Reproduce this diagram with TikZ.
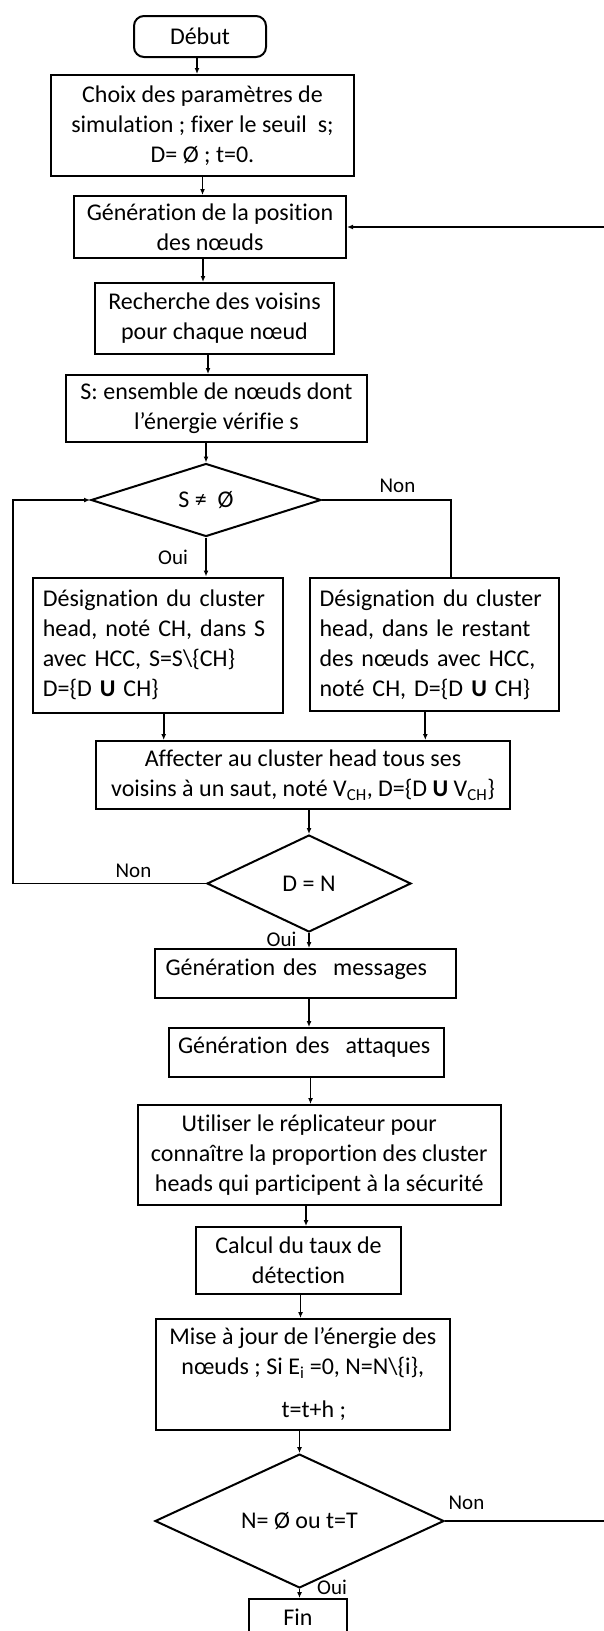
\documentclass[tikz,border=0pt]{standalone}
\usepackage{fontspec}
\setmainfont{Carlito}[Ligatures=NoCommon]
\usetikzlibrary{shapes.geometric,arrows.meta,calc}
\begin{document}
\begin{tikzpicture}[x=1pt,y=-1pt,
  every node/.style={font=\fontsize{24}{30}\selectfont},
  box/.style={draw,line width=2pt,rectangle,inner sep=0pt,align=center},
  lbox/.style={draw,line width=2pt,rectangle,inner xsep=9.5pt,inner ysep=0pt,align=left},
  dec/.style={draw,line width=2pt,diamond,inner sep=0pt},
  con/.style={line width=1.8pt},
  arr/.style={con,-{Latex[length=6pt,width=5pt]}},
  lab/.style={font=\fontsize{21}{25}\selectfont,inner sep=0pt}
]
\useasboundingbox (0,0) rectangle (604,1631);

% boxes
\node[box,rounded corners=10pt,minimum width=132pt,minimum height=41pt] (debut) at (200,36.5) {Début};
\node[box,minimum width=303pt,minimum height=101pt] (choix) at (202.5,125.5) {Choix des paramètres de\\simulation ; fixer le seuil~ s;\\D= Ø ; t=0.};
\node[box,minimum width=272pt,minimum height=62pt] (gen) at (210,227) {Génération de la position\\des nœuds};
\node[box,minimum width=239pt,minimum height=71pt] (rech) at (214.5,318.5) {Recherche des voisins\\pour chaque nœud};
\node[box,minimum width=301pt,minimum height=67pt] (S) at (216.5,408.5) {S: ensemble de nœuds dont\\l’énergie vérifie s};
\node[dec,minimum width=230pt,minimum height=73pt] (d1) at (206,500) {S ≠~ Ø};
\node[lbox,text width=231pt,minimum width=250pt,minimum height=135pt] (b6) at (158.3,645) {Désignation du cluster\\head, noté CH, dans S\\avec HCC, S=S\textbackslash\{CH\}\\D=\{D \textbf{U} CH\}};
\node[lbox,text width=230pt,minimum width=249pt,minimum height=133pt] (b7) at (434.5,644.3) {Désignation du cluster\\head, dans le restant\\des nœuds avec HCC,\\noté CH, D=\{D \textbf{U} CH\}};
\node[box,minimum width=414pt,minimum height=68pt] (b8) at (303,775) {Affecter au cluster head tous ses\\voisins à un saut, noté V\textsubscript{CH}, D=\{D \textbf{U} V\textsubscript{CH}\}};
\node[dec,minimum width=204pt,minimum height=97pt] (d2) at (309,883.5) {D = N};
\node[lbox,inner xsep=10.6pt,text width=279.8pt,minimum width=301pt,minimum height=49pt,text height=9pt,text depth=6pt] (b9) at (305.5,973.5) {Génération des~ messages};
\node[lbox,inner xsep=9pt,text width=257pt,minimum width=275pt,minimum height=49pt,text height=8.4pt,text depth=6pt] (b10) at (306.5,1052.5) {Génération des~ attaques};
\node[box,minimum width=363.5pt,minimum height=100pt] (b11) at (319.3,1155) {Utiliser le réplicateur pour\hspace*{20pt}\\connaître la proportion des cluster\\heads qui participent à la sécurité};
\node[box,minimum width=205pt,minimum height=67pt] (b12) at (298.5,1260.5) {Calcul du taux de\\détection};
\node[box,minimum width=294.4pt,minimum height=111pt] (b13) at (302.8,1374.5) {Mise à jour de l’énergie des\\nœuds ; Si E\textsubscript{i} =0, N=N\textbackslash\{i\},\\[13pt]\hspace*{22pt}t=t+h ;};
\node[dec,minimum width=289pt,minimum height=106pt] (d3) at (299.5,1521) {N= Ø ou t=T};
\node[box,minimum width=98pt,minimum height=36pt] (fin) at (298,1617) {Fin};

% labels
\node[lab] (lnon1) at (397.5,485.7) {Non};
\node[lab] (loui1) at (173,557) {Oui};
\node[lab] (lnon2) at (133.5,871) {Non};
\node[lab] (loui2) at (281.5,939) {Oui};
\node[lab] (lnon3) at (466.5,1503) {Non};
\node[lab] (loui3) at (332,1587) {Oui};

% connectors
\coordinate (a1) at ([xshift=-3pt]debut.south);
\draw[arr] (a1) -- (a1 |- choix.north);
\draw[arr] (choix.south) -- (choix.south |- gen.north);
\coordinate (a3) at ([xshift=-7pt]gen.south);
\draw[arr] (a3) -- (a3 |- rech.north);
\coordinate (a4) at ([xshift=-6.5pt]rech.south);
\draw[arr] (a4) -- (a4 |- S.north);
\draw[arr] (S.south -| d1.north) -- (d1.north);
\draw[arr] (d1.south) -- (d1.south |- b6.north);
\coordinate (r1) at ([xshift=16.2pt]b7.north);
\draw[con] (d1.east) -| (r1);
\coordinate (c6) at ([xshift=5.4pt]b6.south);
\draw[arr] (c6) -- (c6 |- b8.north);
\coordinate (c7) at ([xshift=-9.2pt]b7.south);
\draw[arr] (c7) -- (c7 |- b8.north);
\draw[arr] (b8.south -| d2.north) -- (d2.north);
\coordinate (lp) at (13,0);
\draw[arr] (d2.west) -| (lp |- d1.west) -- (d1.west);
\draw[arr] (d2.south) -- (d2.south |- b9.north);
\draw[arr] (b9.south -| d2.south) -- (d2.south |- b10.north);
\coordinate (c10) at ([xshift=4pt]b10.south);
\draw[arr] (c10) -- (c10 |- b11.north);
\coordinate (c11) at ([xshift=-13.3pt]b11.south);
\draw[arr] (c11) -- (c11 |- b12.north);
\coordinate (c12) at ([xshift=2pt]b12.south);
\draw[arr] (c12) -- (c12 |- b13.north);
\draw[arr] (b13.south -| d3.north) -- (d3.north);
\draw[arr] (d3.south) -- (d3.south |- fin.north);
\coordinate (re) at (606,0);
\draw[arr] (d3.east) -- (d3.east -| re) -- (re |- gen.east) -- (gen.east);
\end{tikzpicture}
\end{document}
